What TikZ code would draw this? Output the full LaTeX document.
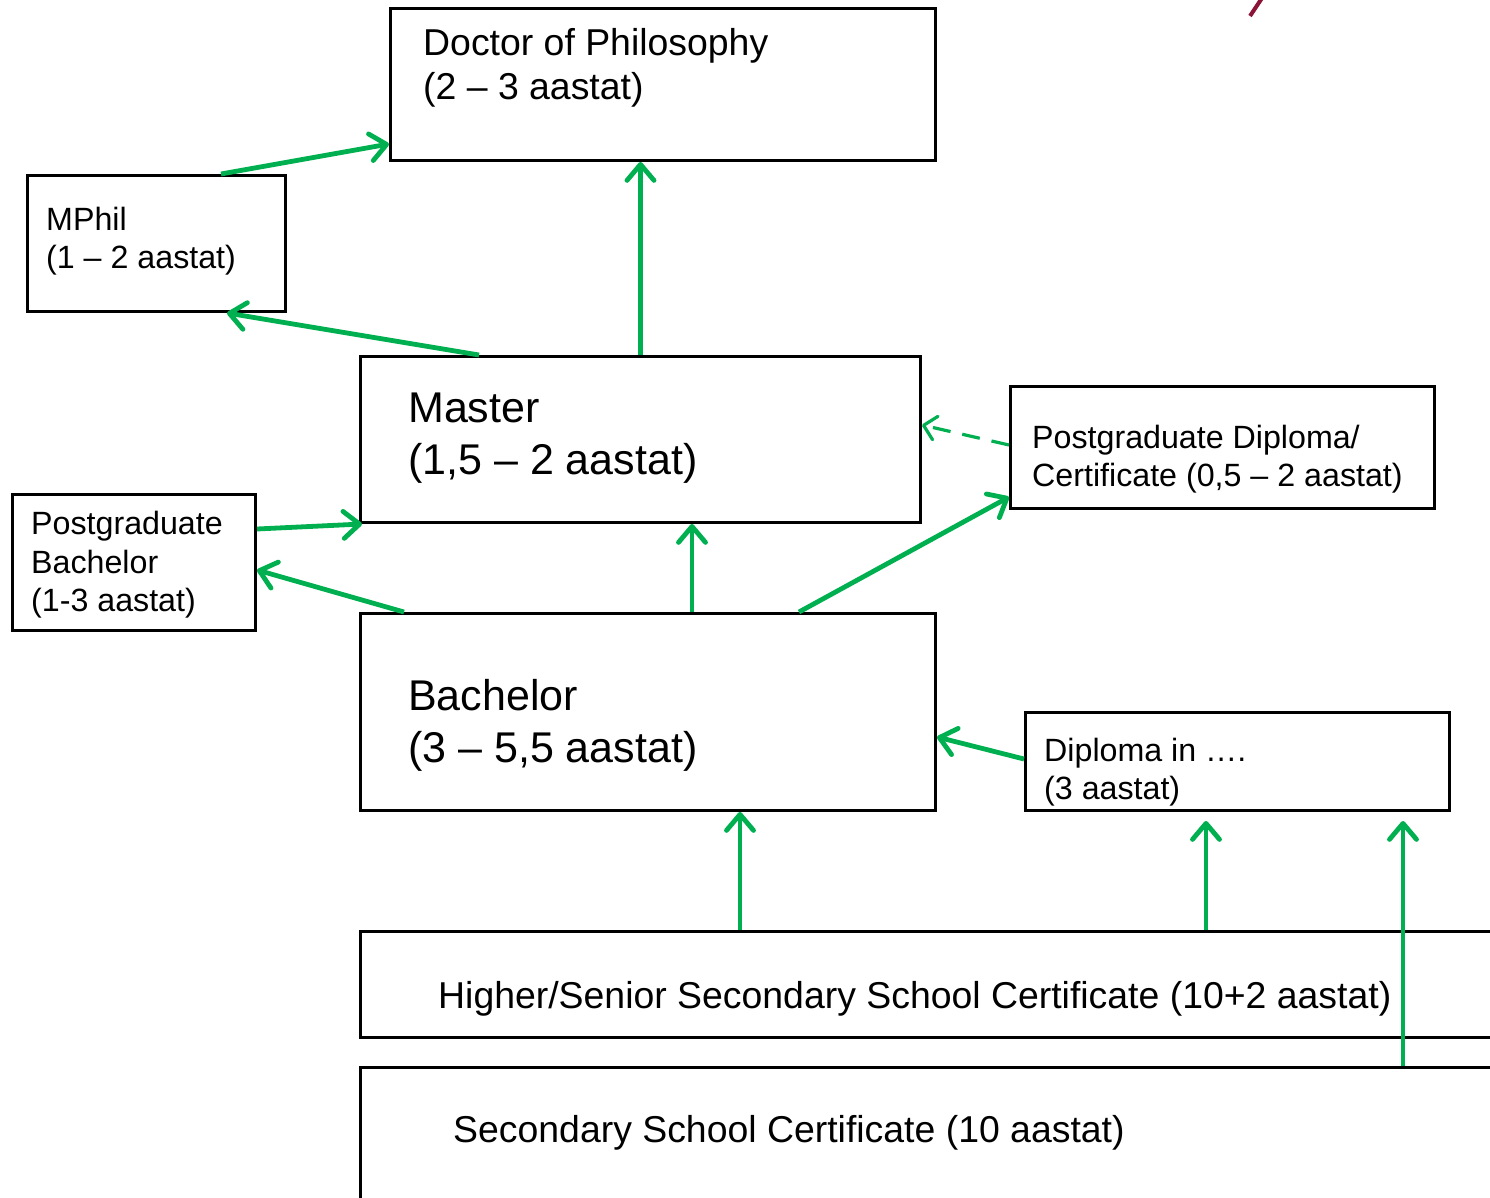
\documentclass[tikz,border=0pt]{standalone}
\usepackage{fontspec}
\setmainfont{Liberation Sans}
\usetikzlibrary{arrows.meta,calc,positioning}
\definecolor{arrowgreen}{HTML}{00B050}
\definecolor{markred}{HTML}{8B1538}
\tikzset{
  box/.style={draw, line width=3pt, inner sep=0pt, anchor=north west},
  txt/.style={anchor=west, align=left, inner sep=0pt},
  bigtxt/.style={txt, font=\fontsize{43}{52}\selectfont},
  midtxt/.style={txt, font=\fontsize{37.4}{44}\selectfont},
  smalltxt/.style={txt, font=\fontsize{32.2}{38.5}\selectfont},
  arr/.style={arrowgreen, line width=4.8pt, -{Straight Barb[length=16pt,width=27pt,round]}},
  dasharr/.style={arrowgreen, line width=3.2pt, dash pattern=on 18pt off 12pt,
    -{Straight Barb[length=12pt,width=24pt,round]}}
}
\begin{document}
\begin{tikzpicture}[x=1pt,y=-1pt]
    \useasboundingbox (0,0) rectangle (1490,1198);

    % Boxes
    \node[box, minimum width=545pt, minimum height=152pt] (phd) at (389,7) {};
    \node[box, minimum width=258pt, minimum height=136pt] (mphil) at (26,174) {};
    \node[box, minimum width=560pt, minimum height=166pt] (master) at (359,355) {};
    \node[box, minimum width=424pt, minimum height=122pt] (pgdip) at (1009,385) {};
    \node[box, minimum width=243pt, minimum height=136pt] (pgbach) at (11,493) {};
    \node[box, minimum width=575pt, minimum height=197pt] (bach) at (359,612) {};
    \node[box, minimum width=424pt, minimum height=98pt] (dipin) at (1024,711) {};
    \node[box, minimum width=1200pt, minimum height=106pt] (higher) at (359,930) {};
    \node[box, minimum width=1200pt, minimum height=200pt] (second) at (359,1066) {};

    % Labels
    \node[midtxt] (phdtxt) at (423,68) {Doctor of Philosophy\\(2 – 3 aastat)};
    \node[smalltxt] (mphiltxt) at (46,241) {MPhil\\(1 – 2 aastat)};
    \node[bigtxt] (mastertxt) at (408,438) {Master\\(1,5 – 2 aastat)};
    \node[smalltxt] (pgdiptxt) at (1032,459) {Postgraduate Diploma/\\Certificate (0,5 – 2 aastat)};
    \node[smalltxt] (pgbachtxt) at (31,565) {Postgraduate\\Bachelor\\(1-3 aastat)};
    \node[bigtxt] (bachtxt) at (408,725) {Bachelor\\(3 – 5,5 aastat)};
    \node[smalltxt] (dipintxt) at (1044,772) {Diploma in ….\\(3 aastat)};
    \node[midtxt] (highertxt) at (438,999) {Higher/Senior Secondary School Certificate (10+2 aastat)};
    \node[midtxt] (secondtxt) at (453,1133) {Secondary School Certificate (10 aastat)};

    % Arrows
    \draw[arr] ([xshift=195pt]mphil.north west) -- ([yshift=-137pt]phd.north west);
    \draw[arr] ([xshift=120pt]master.north west) -- ([xshift=201pt]mphil.south west);
    \draw[arr] (master.north) -- (master.north |- phd.south);
    \draw[arr] ([yshift=-36pt]pgbach.north east) -- ([xshift=3pt]master.south west);
    \draw[arr] ([xshift=45pt]bach.north west) -- ([yshift=-77pt]pgbach.north east);
    \draw[arr] ([xshift=333pt]bach.north west) coordinate (b1) -- (b1 |- master.south);
    \draw[arr] ([xshift=440pt]bach.north west) -- ([yshift=13pt]pgdip.south west);
    \draw[dasharr] ([yshift=-60pt]pgdip.north west) -- ([yshift=-70pt]master.north east);
    \draw[arr] ([yshift=-48pt]dipin.north west) -- ([yshift=-125pt]bach.north east);
    \draw[arr] ([xshift=381pt]higher.north west) coordinate (h1) -- (h1 |- bach.south);
    \draw[arr] ([xshift=847pt]higher.north west) coordinate (h2) -- ($(h2 |- dipin.south)+(0,9)$);
    \draw[arr] ([xshift=1044pt]second.north west) coordinate (s1) -- ($(s1 |- dipin.south)+(0,9)$);

    % Mark in the corner
    \draw[markred, line width=4pt] (1250,16) -- (1262,-2);
\end{tikzpicture}
\end{document}
